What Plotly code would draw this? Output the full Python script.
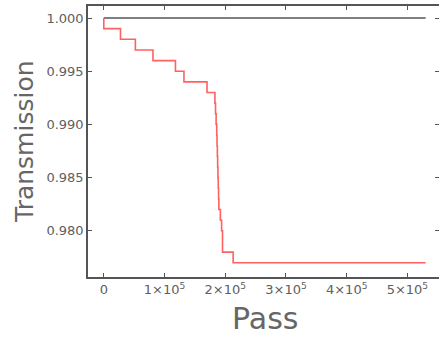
import plotly.graph_objects as go

# Reference (black) line
ref_pass = [0, 530000]
ref_trans = [1.000, 1.000]

# Red step curve: pass at which transmission changes, value after
red_pass = [0, 0, 27500, 52000, 81000, 118000, 132000, 170000, 183000, 184000,
            185000, 186000, 186500, 187000, 187500, 188000, 188500, 189000,
            189500, 192000, 194000, 195500, 213000, 530000]
red_trans = [1.000, 0.999, 0.998, 0.997, 0.996, 0.995, 0.994, 0.993, 0.992, 0.991,
             0.990, 0.989, 0.988, 0.987, 0.986, 0.985, 0.984, 0.983,
             0.982, 0.981, 0.980, 0.978, 0.977, 0.977]

x_tickvals = [0, 100000, 200000, 300000, 400000, 500000]
x_ticktext = ["0", "1×10<sup>5</sup>", "2×10<sup>5</sup>", "3×10<sup>5</sup>",
              "4×10<sup>5</sup>", "5×10<sup>5</sup>"]
y_tickvals = [0.980, 0.985, 0.990, 0.995, 1.000]
y_ticktext = ["0.980", "0.985", "0.990", "0.995", "1.000"]

fig = go.Figure()
fig.add_trace(go.Scatter(x=ref_pass, y=ref_trans, mode="lines",
                         line=dict(color="#555555", width=1.6)))
fig.add_trace(go.Scatter(x=red_pass, y=red_trans, mode="lines",
                         line=dict(color="#ff6060", width=1.6, shape="hv")))

axis_common = dict(showgrid=False, zeroline=False, showline=True,
                   linecolor="#555555", linewidth=1.5, ticks="inside",
                   ticklen=4, tickcolor="#555555", mirror="ticks",
                   automargin=False,
                   tickfont=dict(family="DejaVu Sans", size=13, color="#606060"))

fig.update_xaxes(range=[-26000, 552000], tickvals=x_tickvals, ticktext=x_ticktext,
                 **axis_common)
fig.update_yaxes(range=[0.97566, 1.00113], tickvals=y_tickvals, ticktext=y_ticktext,
                 **axis_common)

fig.add_annotation(text="Transmission", xref="paper", yref="paper",
                   x=-0.1795, y=0.502, xanchor="center", yanchor="middle",
                   textangle=-90, showarrow=False,
                   font=dict(family="DejaVu Sans", size=25, color="#666666"))
fig.add_annotation(text="Pass", xref="paper", yref="paper",
                   x=0.504, y=-0.152, xanchor="center", yanchor="middle",
                   showarrow=False,
                   font=dict(family="DejaVu Sans", size=30, color="#666666"))

fig.update_layout(width=439, height=338, showlegend=False,
                  margin=dict(l=88, r=0, t=6, b=61),
                  plot_bgcolor="white", paper_bgcolor="white")

fig.write_html("out.html", config={"displayModeBar": False},
               post_script="document.body.style.margin='0px';document.body.style.overflow='hidden';")
